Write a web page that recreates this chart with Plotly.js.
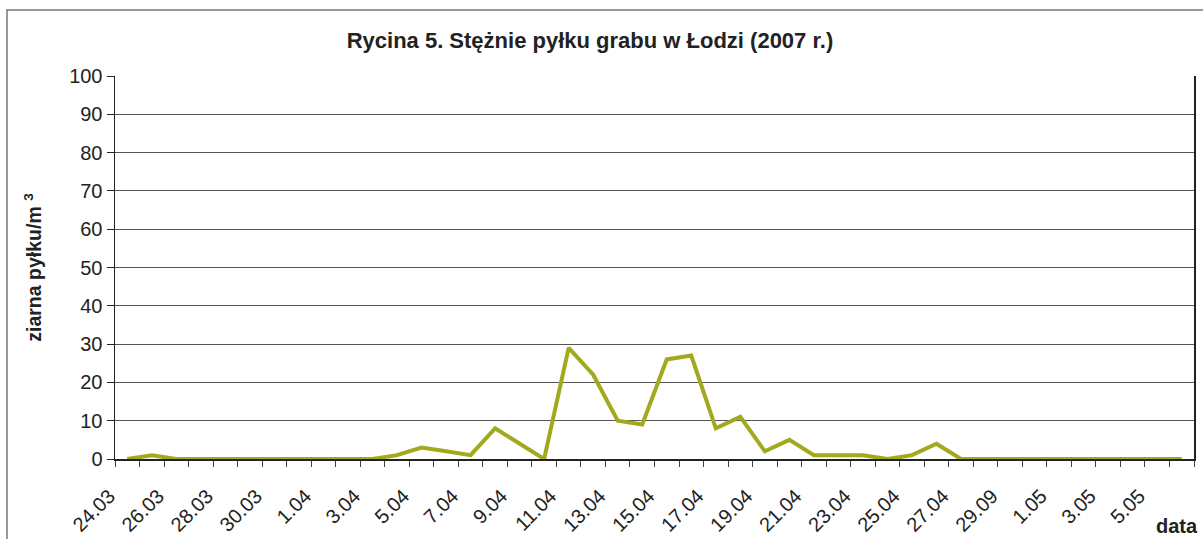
<!DOCTYPE html>
<html>
<head>
<meta charset="utf-8">
<script src="https://cdn.plot.ly/plotly-3.0.1.min.js"></script>
<style>
html, body { margin: 0; padding: 0; background: #fff; }
#chart { width: 1203px; height: 539px; }
</style>
</head>
<body>
<div id="chart"></div>
<script>
// Daily dates (categories)
const categories = [
  "24.03","25.03","26.03","27.03","28.03","29.03","30.03","31.03",
  "1.04","2.04","3.04","4.04","5.04","6.04","7.04","8.04","9.04","10.04",
  "11.04","12.04","13.04","14.04","15.04","16.04","17.04","18.04","19.04","20.04",
  "21.04","22.04","23.04","24.04","25.04","26.04","27.04","28.04","29.04","30.04",
  "1.05","2.05","3.05","4.05","5.05","6.05"
];
// Pollen concentration (grains / m3)
const values = [
  0,1,0,0,0,0,0,0,
  0,0,0,1,3,2,1,8,4,0,
  29,22,10,9,26,27,8,11,2,5,
  1,1,1,0,1,4,0,0,0,0,
  0,0,0,0,0,0
];
// Displayed tick labels (as printed in the original, incl. "29.09")
const tickCategories = ["24.03","26.03","28.03","30.03","1.04","3.04","5.04","7.04","9.04","11.04",
  "13.04","15.04","17.04","19.04","21.04","23.04","25.04","27.04","29.04","1.05","3.05","5.05"];
const tickLabels = ["24.03","26.03","28.03","30.03","1.04","3.04","5.04","7.04","9.04","11.04",
  "13.04","15.04","17.04","19.04","21.04","23.04","25.04","27.04","29.09","1.05","3.05","5.05"];
const yTicks = [0,10,20,30,40,50,60,70,80,90,100];

const xIdx = categories.map((c, i) => i);
const tickvals = tickCategories.map(c => categories.indexOf(c));

const FONT = "Arial, 'Liberation Sans', sans-serif";

const trace = {
  x: xIdx,
  y: values,
  text: categories,
  type: "scatter",
  mode: "lines",
  line: { color: "#a2a91c", width: 4 },
  hovertemplate: "%{text}: %{y}<extra></extra>"
};

const layout = {
  width: 1203,
  height: 539,
  margin: { l: 115, r: 9, t: 76, b: 80 },
  paper_bgcolor: "#ffffff",
  plot_bgcolor: "#ffffff",
  showlegend: false,
  font: { family: FONT, color: "#222" },
  title: {
    text: "<b>Rycina 5. Stężnie pyłku grabu w Łodzi (2007 r.)</b>",
    font: { family: FONT, size: 22, color: "#222" },
    x: 0.4904, xanchor: "center", xref: "container",
    y: 0.926, yanchor: "middle", yref: "container"
  },
  xaxis: {
    range: [-0.5, categories.length - 0.5],
    showgrid: false,
    zeroline: false,
    showline: true,
    linecolor: "#222",
    linewidth: 1.5,
    tickmode: "array",
    tickvals: tickvals,
    ticktext: tickLabels,
    ticks: "",
    tickangle: -45,
    ticklabelstandoff: 16,
    ticklabelshift: -18,
    tickfont: { family: FONT, size: 20, color: "#222" },
    minor: { tickmode: "linear", tick0: -0.5, dtick: 1, ticks: "outside", ticklen: 6, tickwidth: 1, tickcolor: "#444", showgrid: false },
    fixedrange: true
  },
  yaxis: {
    range: [0, 100],
    tickmode: "array",
    tickvals: yTicks,
    ticks: "outside",
    ticklen: 7,
    tickwidth: 1,
    tickcolor: "#222",
    showline: true,
    mirror: true,
    linecolor: "#222",
    linewidth: 1.5,
    showgrid: true,
    gridcolor: "#555",
    gridwidth: 1,
    zeroline: false,
    tickfont: { family: FONT, size: 20, color: "#222" },
    title: {
      text: "<b>ziarna pyłku/m <sup>3</sup></b>",
      font: { family: FONT, size: 19.5, color: "#222" },
      standoff: 22
    },
    fixedrange: true
  },
  annotations: [
    {
      text: "<b>data</b>",
      xref: "paper", yref: "paper",
      x: 1.0056, y: -0.174,
      xanchor: "right", yanchor: "middle",
      showarrow: false,
      font: { family: FONT, size: 20, color: "#222" }
    }
  ],
  shapes: [
    {
      type: "rect", xref: "paper", yref: "paper",
      x0: -0.1001, x1: 1.3, y0: -1, y1: 1.1725,
      line: { color: "#777", width: 1.5 },
      fillcolor: "rgba(0,0,0,0)",
      layer: "below"
    }
  ]
};

Plotly.newPlot("chart", [trace], layout, { displayModeBar: false, staticPlot: true });
</script>
</body>
</html>
